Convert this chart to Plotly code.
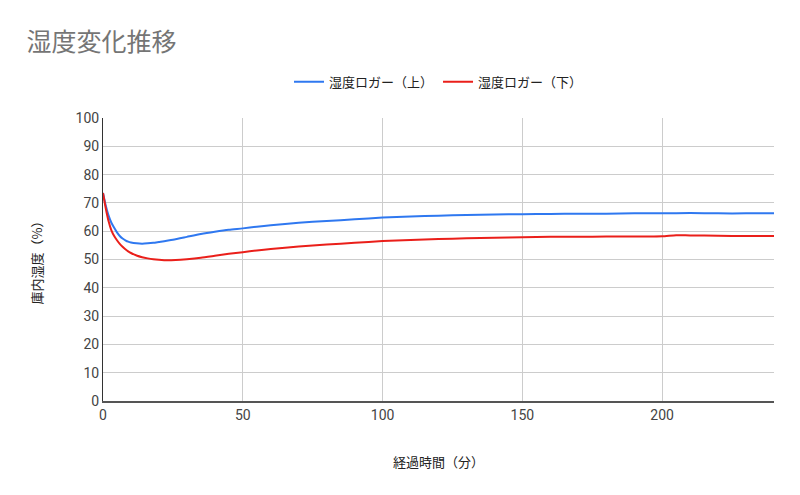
import plotly.graph_objects as go

title_text = "湿度変化推移"
series_names = ["湿度ロガー（上）", "湿度ロガー（下）"]

upper_x = [0, 1, 2, 3, 4, 5, 6, 7, 8, 9, 10, 12, 14, 16, 18, 20, 25, 30, 35, 40, 45, 50, 55, 60,
           70, 80, 90, 100, 110, 120, 130, 140, 150, 160, 170, 180, 190, 200, 210, 220, 230, 240]
upper_y = [73.5, 69.0, 65.5, 63.0, 61.2, 59.6, 58.3, 57.4, 56.8, 56.3, 56.0, 55.7, 55.6, 55.7, 55.9, 56.2,
           57.0, 58.0, 59.0, 59.8, 60.5, 61.0, 61.6, 62.1, 63.0, 63.6, 64.2, 64.8, 65.2, 65.5, 65.7,
           65.9, 66.0, 66.1, 66.2, 66.2, 66.3, 66.3, 66.4, 66.3, 66.3, 66.3]

lower_x = [0, 1, 2, 3, 4, 5, 6, 7, 8, 9, 10, 12, 14, 16, 18, 20, 23, 26, 30, 35, 40, 45, 50, 55, 60,
           70, 80, 90, 100, 110, 120, 130, 140, 150, 160, 170, 180, 190, 200, 205, 210, 220, 230, 240]
lower_y = [73.5, 68.0, 63.5, 60.3, 58.3, 56.8, 55.5, 54.5, 53.6, 52.9, 52.3, 51.4, 50.8, 50.4, 50.1, 49.9,
           49.7, 49.8, 50.1, 50.6, 51.3, 52.0, 52.6, 53.2, 53.7, 54.6, 55.3, 55.9, 56.5, 56.9, 57.2,
           57.5, 57.7, 57.9, 58.0, 58.0, 58.1, 58.1, 58.2, 58.6, 58.5, 58.4, 58.3, 58.3]

x_title = "経過時間（分）"
y_title = "庫内湿度（%）"
y_ticks = [0, 10, 20, 30, 40, 50, 60, 70, 80, 90, 100]
x_ticks = [0, 50, 100, 150, 200]

font_family = "Roboto, 'Noto Sans CJK JP', sans-serif"
cjk_font = "'Noto Sans CJK JP', Roboto, sans-serif"

fig = go.Figure()
fig.add_trace(go.Scatter(x=upper_x, y=upper_y, mode="lines", name=series_names[0],
                         line=dict(color="#2f78f0", width=2, shape="spline", smoothing=0.6)))
fig.add_trace(go.Scatter(x=lower_x, y=lower_y, mode="lines", name=series_names[1],
                         line=dict(color="#ea1f1a", width=2, shape="spline", smoothing=0.6)))

fig.update_layout(
    width=800, height=495,
    paper_bgcolor="white", plot_bgcolor="white",
    margin=dict(l=103, r=26, t=118, b=94),
    font=dict(family=font_family, size=13, color="#333333"),
    title=dict(text=title_text, x=0.033, xanchor="left", y=0.915, yanchor="middle",
               font=dict(family=cjk_font, size=25, color="#757575")),
    legend=dict(orientation="h", x=0.5, xanchor="center", y=1.128, yanchor="middle",
                font=dict(family=cjk_font, size=13, color="#222222"),
                itemwidth=30, tracegroupgap=0),
    showlegend=True,
)
fig.update_xaxes(
    range=[0, 240], tickvals=x_ticks, ticktext=[str(v) for v in x_ticks],
    showgrid=True, gridcolor="#cccccc", gridwidth=1,
    showline=True, linecolor="#555555", linewidth=1.5,
    zeroline=False, ticks="", tickfont=dict(size=14, color="#444444"),
    title=dict(text=x_title, font=dict(family=cjk_font, size=13, color="#222222"), standoff=36),
)
fig.update_yaxes(
    range=[0, 100], tickvals=y_ticks, ticktext=[str(v) for v in y_ticks],
    showgrid=True, gridcolor="#cccccc", gridwidth=1,
    showline=True, linecolor="#333333", linewidth=1,
    zeroline=False, ticks="", tickfont=dict(size=14, color="#444444"),
    title=dict(text=y_title, font=dict(family=cjk_font, size=13, color="#222222"), standoff=30),
)

fig.write_html("out.html")
